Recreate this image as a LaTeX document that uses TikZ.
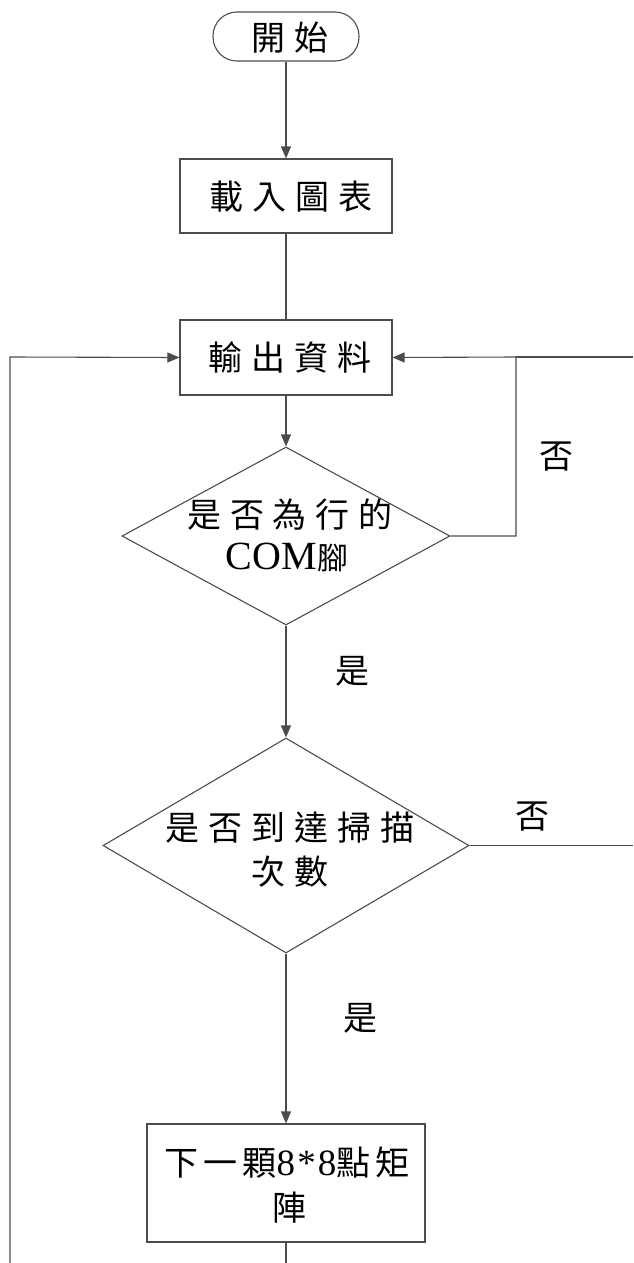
\documentclass[tikz,border=0pt]{standalone}
\usepackage{fontspec}
\setmainfont{Liberation Serif}
\newfontfamily\cjk[LetterSpace=26]{Noto Sans CJK TC}
\newfontfamily\cjkn[LetterSpace=15]{Noto Sans CJK TC}
\newfontfamily\cjkt{Noto Sans CJK TC}
\newfontfamily\latsp[LetterSpace=6]{Liberation Serif}
\usetikzlibrary{arrows.meta,shapes.geometric}
\begin{document}
\begin{tikzpicture}[x=1pt,y=-1pt,
  conn/.style={draw=black!70,line width=1.1pt},
  arr/.style={conn,-{Triangle[length=12pt,width=10pt]}},
  boxshape/.style={draw=black!70,line width=1.1pt,rectangle,inner sep=0pt},
  dshape/.style={draw=black!70,line width=1.1pt,diamond,inner sep=0pt},
  txt/.style={font=\cjk\fontsize{34}{38}\selectfont,inner sep=0pt,anchor=center},
  lbl/.style={font=\cjkt\fontsize{34}{38}\selectfont,inner sep=0pt}
]
\useasboundingbox (0,0) rectangle (633,1263);
% shapes
\node[boxshape,rounded corners=24pt,minimum width=146pt,minimum height=49pt] (start) at (286,36.5) {};
\node[txt] (tstart) at (290,38) {開始};
\node[boxshape,minimum width=212pt,minimum height=74pt] (b1) at (286,196) {};
\node[txt] (tb1) at (291,197) {載入圖表};
\node[boxshape,minimum width=212pt,minimum height=75pt] (b2) at (286,357.5) {};
\node[txt] (tb2) at (290,357) {輸出資料};
\node[dshape,minimum width=328pt,minimum height=178pt] (d1) at (286,536) {};
\node[txt] (td1a) at (290,515) {是否為行的};
\node[inner sep=0pt] (td1b) at (287,557) {\fontsize{40}{44}\selectfont COM{\cjkt\fontsize{31}{36}\selectfont 腳}};
\node[dshape,minimum width=366pt,minimum height=215pt] (d2) at (286,845.5) {};
\node[txt] (td2a) at (290,828) {是否到達掃描};
\node[txt] (td2b) at (290,872) {次數};
\node[boxshape,minimum width=278pt,minimum height=118pt] (b3) at (286,1183) {};
\node[inner sep=0pt] (tb3a) at (287,1163) {{\cjkn\fontsize{34}{38}\selectfont 下一顆}{\latsp\fontsize{37}{40}\selectfont 8*8}{\cjkn\fontsize{34}{38}\selectfont 點矩}};
\node[txt] (tb3b) at (289,1208) {陣};
% free ends
\coordinate (rt1) at (633,357);
\coordinate (rt2) at (633,845.5);
\coordinate (j1) at (516,357);
\coordinate (bl) at (10,1263);
\coordinate (tl) at (10,357);
\coordinate (bb) at (286,1263);
% connectors
\draw[arr] (start.south) -- (b1.north);
\draw[conn] (b1.south) -- (b2.north);
\draw[arr] (b2.south) -- (d1.north);
\draw[arr] (d1.east) -| (j1) -- (b2.east);
\draw[conn] (rt1) -- (j1);
\draw[arr] (d1.south) -- (d2.north);
\draw[conn] (d2.east) -- (rt2);
\draw[arr] (d2.south) -- (b3.north);
\draw[conn] (b3.south) -- (bb);
\draw[arr] (bl) -- (tl) -- (b2.west);
% labels
\node[lbl] (no1) at (556,457) {否};
\node[lbl] (yes1) at (352,671) {是};
\node[lbl] (no2) at (532,817) {否};
\node[lbl] (yes2) at (360,1018) {是};
\end{tikzpicture}
\end{document}
